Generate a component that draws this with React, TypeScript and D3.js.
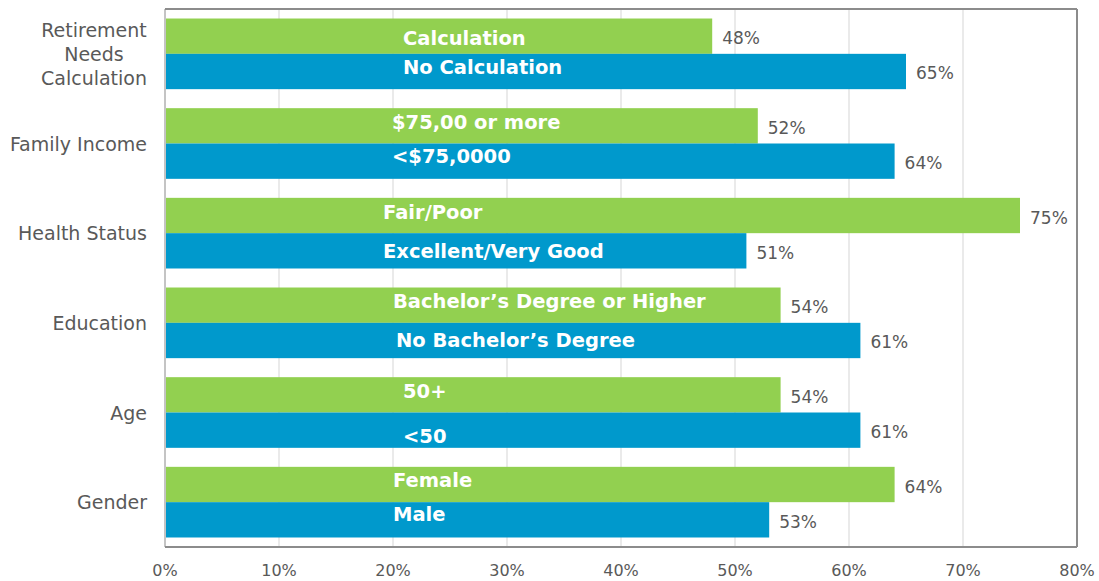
import React from 'react';
import * as d3 from 'd3';

const categories = [
  'Retirement Needs Calculation',
  'Family Income',
  'Health Status',
  'Education',
  'Age',
  'Gender',
];
const categoryLines = [
  ['Retirement', 'Needs', 'Calculation'],
  ['Family Income'],
  ['Health Status'],
  ['Education'],
  ['Age'],
  ['Gender'],
];
const greenLabels = ['Calculation', '$75,00 or more', 'Fair/Poor', 'Bachelor\u2019s Degree or Higher', '50+', 'Female'];
const blueLabels = ['No Calculation', '<$75,0000', 'Excellent/Very Good', 'No Bachelor\u2019s Degree', '<50', 'Male'];
const greenValues = [48, 52, 75, 54, 54, 64];
const blueValues = [65, 64, 51, 61, 61, 53];
const xTicks = [0, 10, 20, 30, 40, 50, 60, 70, 80];

// hand placed text boxes in the original, small nudges in px [dx, dy]
const greenNudge = [[10, 2], [-1, -4], [-10, -4], [0, -4], [10, -4], [0, -5]];
const blueNudge = [[10, -4], [-1, -5], [-10, 0], [3, 0], [10, 6], [0, -6]];

const width = 1099;
const height = 581;
const margin = { top: 9, right: 22, bottom: 34, left: 165 };
const green = '#92d050';
const blue = '#0099cc';
const gray = '#595959';
const font = '"DejaVu Sans", sans-serif';

let measureCtx: CanvasRenderingContext2D | null = null;
const textWidth = (s: string, f: string) => {
  if (!measureCtx) measureCtx = document.createElement('canvas').getContext('2d');
  if (!measureCtx) return s.length * 10;
  measureCtx.font = f;
  return measureCtx.measureText(s).width;
};

const App = () => {
  const x = d3.scaleLinear().domain([0, 80]).range([margin.left, width - margin.right]);
  const y = d3
    .scaleBand()
    .domain(categories)
    .range([margin.top, height - margin.bottom])
    .paddingInner(0.212)
    .paddingOuter(0.106);
  const bw = y.bandwidth() / 2;
  const labelRight = margin.left - 18;

  return (
    <svg width={width} height={height} style={{ position: 'absolute', left: 0, top: 0 }}>
      <rect x={0} y={0} width={width} height={height} fill='#fff' />
      {xTicks.map((t) => (
        <line key={'g' + t} x1={x(t)} x2={x(t)} y1={margin.top} y2={height - margin.bottom} stroke='#e3e3e3' strokeWidth={1.5} />
      ))}
      {categories.map((c, i) => {
        const y0 = y(c) as number;
        return (
          <g key={c}>
            <rect x={x(0)} y={y0} width={x(greenValues[i]) - x(0)} height={bw} fill={green} />
            <rect x={x(0)} y={y0 + bw} width={x(blueValues[i]) - x(0)} height={bw} fill={blue} />
            <text x={x(greenValues[i]) + 10} y={y0 + bw / 2 + 8} fontFamily={font} fontSize={17} fill={gray}>
              {greenValues[i]}%
            </text>
            <text x={x(blueValues[i]) + 10} y={y0 + bw * 1.5 + 8} fontFamily={font} fontSize={17} fill={gray}>
              {blueValues[i]}%
            </text>
            <text x={x(20) + greenNudge[i][0]} y={y0 + bw / 2 + 7 + greenNudge[i][1]} fontFamily={font} fontSize={19.5} fontWeight='bold' fill='#fff'>
              {greenLabels[i]}
            </text>
            <text x={x(20) + blueNudge[i][0]} y={y0 + bw * 1.5 + 7 + blueNudge[i][1]} fontFamily={font} fontSize={19.5} fontWeight='bold' fill='#fff'>
              {blueLabels[i]}
            </text>
          </g>
        );
      })}
      {categoryLines.map((lines, i) => {
        const cy = (y(categories[i]) as number) + y.bandwidth() / 2;
        const lh = 24;
        if (lines.length === 1) {
          return (
            <text key={'c' + i} x={labelRight} y={cy + 7} textAnchor='end' fontFamily={font} fontSize={19} fill={gray}>
              {lines[0]}
            </text>
          );
        }
        const maxW = d3.max(lines, (l) => textWidth(l, '19px ' + font)) || 0;
        const cx = labelRight - maxW / 2;
        return (
          <text key={'c' + i} textAnchor='middle' fontFamily={font} fontSize={19} fill={gray}>
            {lines.map((l, j) => (
              <tspan key={j} x={cx} y={cy + 7 + (j - (lines.length - 1) / 2) * lh}>
                {l}
              </tspan>
            ))}
          </text>
        );
      })}
      <line x1={x(0)} x2={x(0)} y1={margin.top} y2={height - margin.bottom} stroke='#c4c4c4' strokeWidth={2} />
      <line x1={x(0)} x2={x(80)} y1={margin.top} y2={margin.top} stroke='#8c8c8c' strokeWidth={2} />
      <line x1={x(80)} x2={x(80)} y1={margin.top} y2={height - margin.bottom} stroke='#8c8c8c' strokeWidth={2} />
      <line x1={x(0)} x2={x(80)} y1={height - margin.bottom} y2={height - margin.bottom} stroke='#8c8c8c' strokeWidth={2} />
      {xTicks.map((t) => (
        <text key={'t' + t} x={x(t)} y={576} textAnchor='middle' fontFamily={font} fontSize={16} fill={gray}>
          {t}%
        </text>
      ))}
    </svg>
  );
};

export default App;
